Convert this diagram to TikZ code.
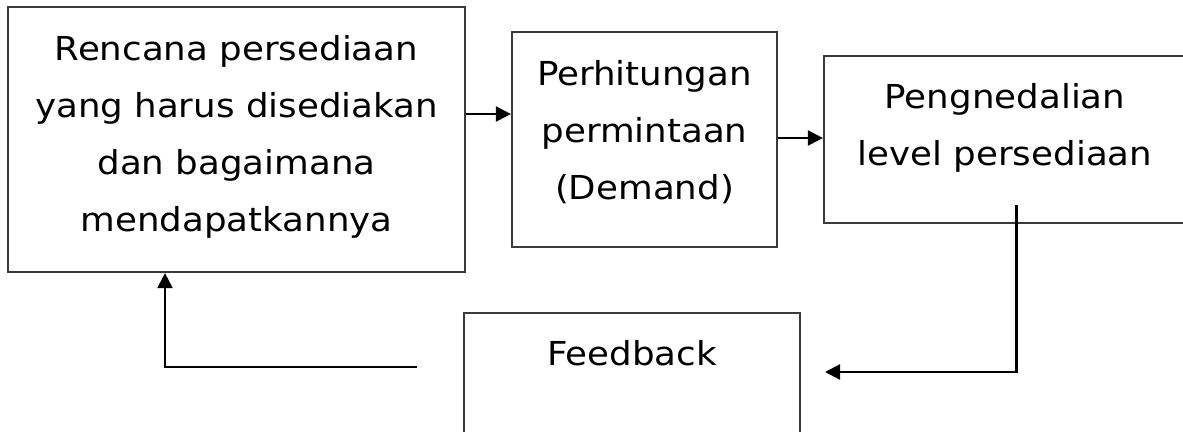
\documentclass[tikz,border=0pt]{standalone}
\usepackage{fontspec}
\setmainfont{DejaVu Sans}[FakeStretch=1.08]
\usetikzlibrary{arrows.meta}
\definecolor{boxline}{HTML}{3A3A3A}
\tikzset{
  box/.style={draw=boxline, line width=2.2pt, rectangle, inner sep=0pt},
  lbl/.style={align=center, font=\fontsize{33}{57}\selectfont, inner sep=0pt},
  arr/.style={line width=2.2pt, -{Triangle[length=15pt,width=15pt]}},
  ln/.style={line width=2.2pt}
}
\begin{document}
\begin{tikzpicture}[x=1pt,y=-1pt]
\useasboundingbox (0,0) rectangle (1183,431);
\fill[white] (0,0) rectangle (1183,431);
\clip (0,0) rectangle (1183,431);
% boxes
\node[box, minimum width=457pt, minimum height=265pt] (b1) at (236.5,139.5) {};
\node[box, minimum width=265pt, minimum height=215pt] (b2) at (644.5,139.5) {};
\node[box, minimum width=362pt, minimum height=167pt] (b3) at (1005,139.5) {};
\node[box, minimum width=336pt, minimum height=170pt] (b4) at (632,398) {};
% texts
\node[lbl] (t1) at (236.5,137) {Rencana persediaan\\yang harus disediakan\\dan bagaimana\\mendapatkannya};
\node[lbl] (t2) at (644.5,132) {Perhitungan\\permintaan\\(Demand)};
\node[lbl] (t3) at (1005,128) {Pengnedalian\\level persediaan};
\node[lbl] (t4) at (632,353) {Feedback};
% connectors
\coordinate (y1) at (0,114);
\draw[arr] (b1.east |- y1) -- (b2.west |- y1);
\coordinate (y2) at (0,138);
\draw[arr] (b2.east |- y2) -- (b3.west |- y2);
\coordinate (s3) at (1016.5,205);
\coordinate (c3) at (1016.5,372);
\coordinate (e3) at (825,372);
\draw[arr] (s3) -- (c3) -- (e3);
\coordinate (s4) at (417,367);
\coordinate (c4) at (165,367);
\draw[arr] (s4) -- (c4) -- (c4 |- b1.south);
\end{tikzpicture}
\end{document}
